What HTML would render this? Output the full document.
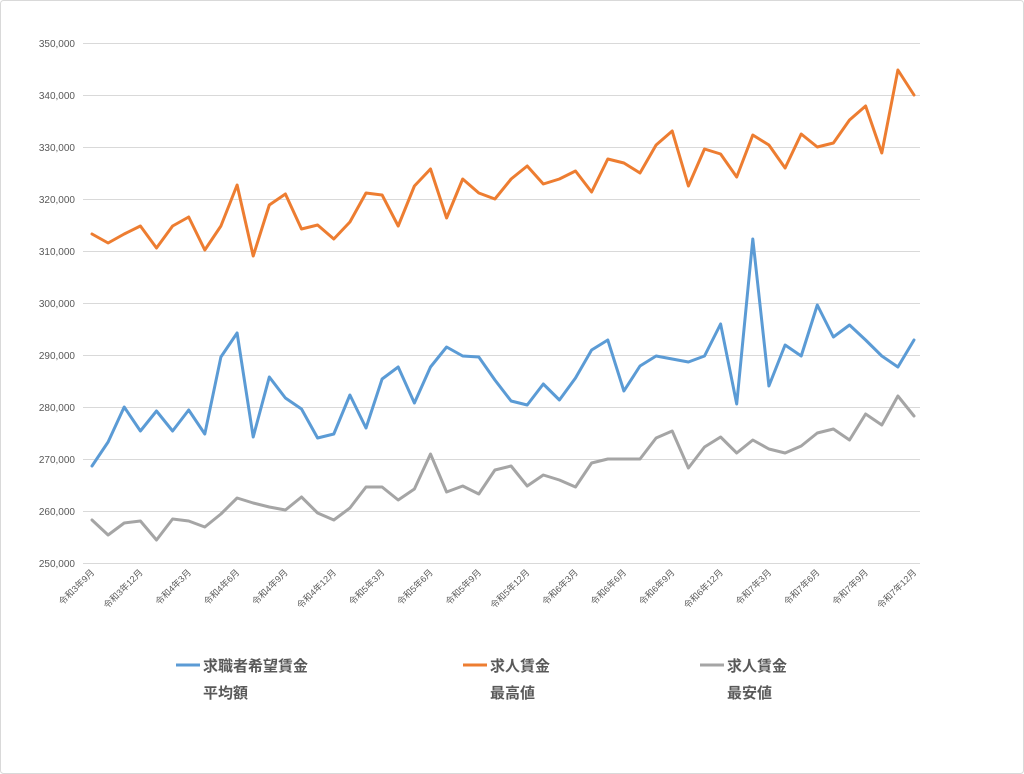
<!DOCTYPE html>
<html><head><meta charset="utf-8"><style>
body{margin:0;background:#fff}
svg{display:block;font-family:"Liberation Sans","Noto Sans CJK JP",sans-serif}
</style></head><body>
<svg id="c" width="1024" height="774" viewBox="0 0 1024 774" xmlns="http://www.w3.org/2000/svg">
<rect x="0.5" y="0.5" width="1023" height="773" rx="3" fill="#fff" stroke="#d9d9d9"/>
<g id="grid" stroke="#d9d9d9" stroke-width="1"></g>
<g id="yl" font-size="10" fill="#595959" text-anchor="end"></g>
<g id="xl" font-size="9" fill="#595959" text-anchor="end"></g>
<g id="lines" fill="none" stroke-width="3" stroke-linejoin="round" stroke-linecap="round"></g>
<g font-size="15" font-weight="bold" fill="#595959">
<line x1="176" y1="665" x2="200" y2="665" stroke="#5b9bd5" stroke-width="3"/>
<text x="203" y="671">求職者希望賃金</text><text x="203" y="698">平均額</text>
<line x1="463" y1="665" x2="487" y2="665" stroke="#ed7d31" stroke-width="3"/>
<text x="490" y="671">求人賃金</text><text x="490" y="698">最高値</text>
<line x1="700" y1="665" x2="724" y2="665" stroke="#a5a5a5" stroke-width="3"/>
<text x="727" y="671">求人賃金</text><text x="727" y="698">最安値</text>
</g>
</svg>
<script>
var ns="http://www.w3.org/2000/svg";
function el(t,a,p,txt){var e=document.createElementNS(ns,t);for(var k in a)e.setAttribute(k,a[k]);if(txt)e.textContent=txt;document.getElementById(p).appendChild(e);}
for(var i=0;i<=10;i++){var y=43+52*i;el('line',{x1:83,x2:920,y1:y+.5,y2:y+.5},'grid');
el('text',{x:75,y:y+4},'yl',(350-10*i)+',000');}
var x0=92,st=(914-92)/51;
var labs=['令和3年9月','令和3年12月','令和4年3月','令和4年6月','令和4年9月','令和4年12月','令和5年3月','令和5年6月','令和5年9月','令和5年12月','令和6年3月','令和6年6月','令和6年9月','令和6年12月','令和7年3月','令和7年6月','令和7年9月','令和7年12月'];
labs.forEach(function(l,i){var x=x0+st*3*i+3,y=573;el('text',{x:x,y:y,transform:'rotate(-45 '+x+' '+y+')'},'xl',l);});
var O=[234,243,234,226,248,226,217,250,226,185,256,205,194,229,225,239,222,193,195,226,186,169,218,179,193,199,179,166,184,179,171,192,159,163,173,145,131,186,149,154,177,135,145,168,134,147,143,120,106,153,70,95];
var B=[466,442,407,431,411,431,410,434,357,333,437,377,398,409,438,434,395,428,379,367,403,367,347,356,357,380,401,405,384,400,378,350,340,391,366,356,359,362,356,324,404,239,386,345,356,305,337,325,340,356,367,340];
var G=[520,535,523,521,540,519,521,527,514,498,503,507,510,497,513,520,508,487,487,500,489,454,492,486,494,470,466,486,475,480,487,463,459,459,459,438,431,468,447,437,453,440,449,453,446,433,429,440,414,425,396,416];
[[G,'#a5a5a5'],[B,'#5b9bd5'],[O,'#ed7d31']].forEach(function(s){
var p=s[0].map(function(v,i){return (x0+st*i).toFixed(1)+','+v;}).join(' ');
el('polyline',{points:p,stroke:s[1]},'lines');});
</script>
</body></html>
